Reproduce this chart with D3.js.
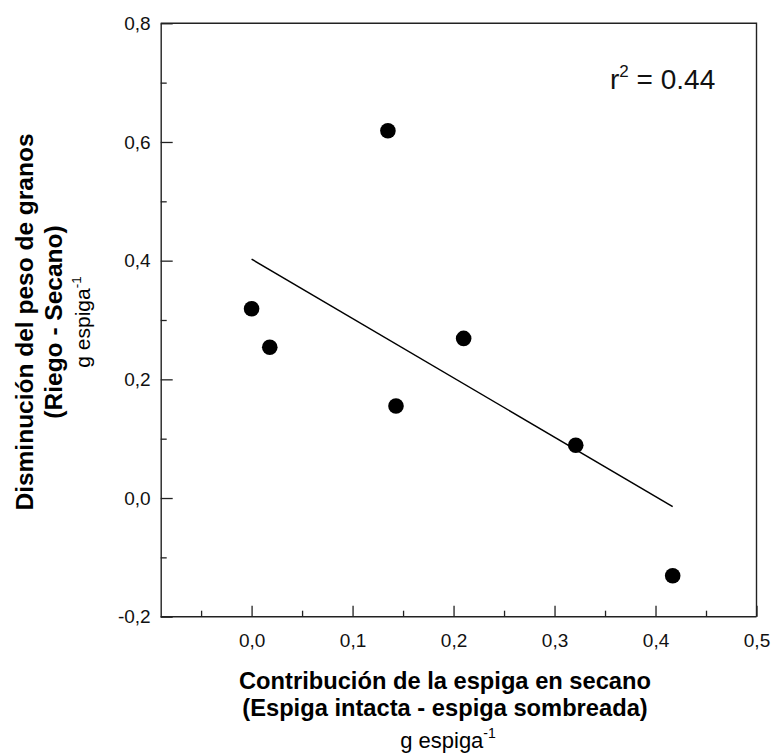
<!DOCTYPE html>
<html>
<head>
<meta charset="utf-8">
<script src="https://cdn.jsdelivr.net/npm/d3@7"></script>
<style>
  html, body { margin: 0; padding: 0; background: #fff; }
  svg { display: block; font-family: "Liberation Sans", Arial, sans-serif; }
</style>
</head>
<body>
<svg id="chart" width="772" height="756"></svg>
<script>
// Data
const xValues = [0.000, 0.018, 0.135, 0.143, 0.210, 0.321, 0.417];
const yValues = [0.319, 0.254, 0.619, 0.155, 0.269, 0.089, -0.131];
const xMajorTicks = [0.0, 0.1, 0.2, 0.3, 0.4, 0.5];
const xMinorTicks = [-0.05, 0.05, 0.15, 0.25, 0.35, 0.45];
const yMajorTicks = [-0.2, 0.0, 0.2, 0.4, 0.6, 0.8];
const yMinorTicks = [-0.1, 0.1, 0.3, 0.5, 0.7];
const r2Label = "0.44";

const svg = d3.select("#chart");
const pL = 160.7, pR = 756.5, pT = 23.3, pB = 616.7;

const x = d3.scaleLinear().domain([-0.09, 0.5]).range([pL, pR]);
const y = d3.scaleLinear().domain([-0.2, 0.8]).range([pB, pT]);
const fmt = d => d3.format(".1f")(d).replace(".", ",").replace("−", "-");

// Frame (top and right lines)
svg.append("path")
  .attr("d", `M${pL},${pT}H${pR}V${pB}`)
  .attr("fill", "none").attr("stroke", "#222").attr("stroke-width", 1.4);

// X axis
const gx = svg.append("g").attr("transform", `translate(0,${pB})`);
gx.call(d3.axisBottom(x).tickValues(xMajorTicks).tickSize(-11).tickPadding(17).tickFormat(fmt).tickSizeOuter(0));
gx.append("g").call(d3.axisBottom(x).tickValues(xMinorTicks).tickSize(-6).tickFormat("").tickSizeOuter(0))
  .select(".domain").remove();
gx.selectAll(".domain").attr("d", `M${pL},0H${pR}`);
gx.selectAll("line").attr("stroke", "#222").attr("stroke-width", 1.3);
gx.selectAll(".domain").attr("stroke", "#222").attr("stroke-width", 1.4);
gx.selectAll("text").attr("font-size", 19).attr("fill", "#111").attr("font-family", "Liberation Sans, Arial, sans-serif");

// Y axis
const gy = svg.append("g").attr("transform", `translate(${pL},0)`);
gy.call(d3.axisLeft(y).tickValues(yMajorTicks).tickSize(-12).tickPadding(10).tickFormat(fmt).tickSizeOuter(0));
gy.append("g").call(d3.axisLeft(y).tickValues(yMinorTicks).tickSize(-6).tickFormat("").tickSizeOuter(0))
  .select(".domain").remove();
gy.selectAll("line").attr("stroke", "#222").attr("stroke-width", 1.3);
gy.selectAll(".domain").attr("stroke", "#222").attr("stroke-width", 1.4);
gy.selectAll("text").attr("font-size", 19).attr("fill", "#111").attr("font-family", "Liberation Sans, Arial, sans-serif");

// Regression line
const pts = xValues.map((v, i) => [v, yValues[i]]);
const mx = d3.mean(xValues), my = d3.mean(yValues);
const sxy = d3.sum(pts, p => (p[0] - mx) * (p[1] - my));
const sxx = d3.sum(xValues, v => (v - mx) ** 2);
const slope = sxy / sxx, intercept = my - slope * mx;
const [x0, x1] = d3.extent(xValues);
svg.append("path")
  .datum([[x0, intercept + slope * x0], [x1, intercept + slope * x1]])
  .attr("d", d3.line().x(d => x(d[0])).y(d => y(d[1])))
  .attr("stroke", "#000").attr("stroke-width", 1.5).attr("fill", "none");

// Points
svg.append("g").selectAll("circle").data(pts).join("circle")
  .attr("cx", d => x(d[0])).attr("cy", d => y(d[1])).attr("r", 7.8).attr("fill", "#000");

// r² annotation
const rt = svg.append("text").attr("x", 610).attr("y", 89).attr("font-size", 28).attr("fill", "#111");
rt.append("tspan").text("r");
rt.append("tspan").attr("font-size", 17).attr("dy", -12).text("2");
rt.append("tspan").attr("dy", 12).text(" = " + r2Label);

// X axis title
const xt = svg.append("g").attr("text-anchor", "middle").attr("fill", "#000");
xt.append("text").attr("x", 445).attr("y", 689).attr("font-size", 23.7).attr("font-weight", "bold")
  .text("Contribución de la espiga en secano");
xt.append("text").attr("x", 445).attr("y", 716).attr("font-size", 23.7).attr("font-weight", "bold")
  .text("(Espiga intacta - espiga sombreada)");
const xu = xt.append("text").attr("x", 448).attr("y", 748).attr("font-size", 22);
xu.append("tspan").text("g espiga");
xu.append("tspan").attr("font-size", 14).attr("dy", -10).text("-1");

// Y axis title
const yt = svg.append("g").attr("text-anchor", "middle")
  .attr("transform", `translate(0,322) rotate(-90)`);
yt.append("text").attr("x", 0).attr("y", 33).attr("font-size", 24.5).attr("font-weight", "bold")
  .text("Disminución del peso de granos");
yt.append("text").attr("x", 0).attr("y", 62).attr("font-size", 24.5).attr("font-weight", "bold")
  .text("(Riego - Secano)");
const yu = yt.append("text").attr("x", 0).attr("y", 90).attr("font-size", 21);
yu.append("tspan").text("g espiga");
yu.append("tspan").attr("font-size", 13.5).attr("dy", -9.5).text("-1");
</script>
</body>
</html>
